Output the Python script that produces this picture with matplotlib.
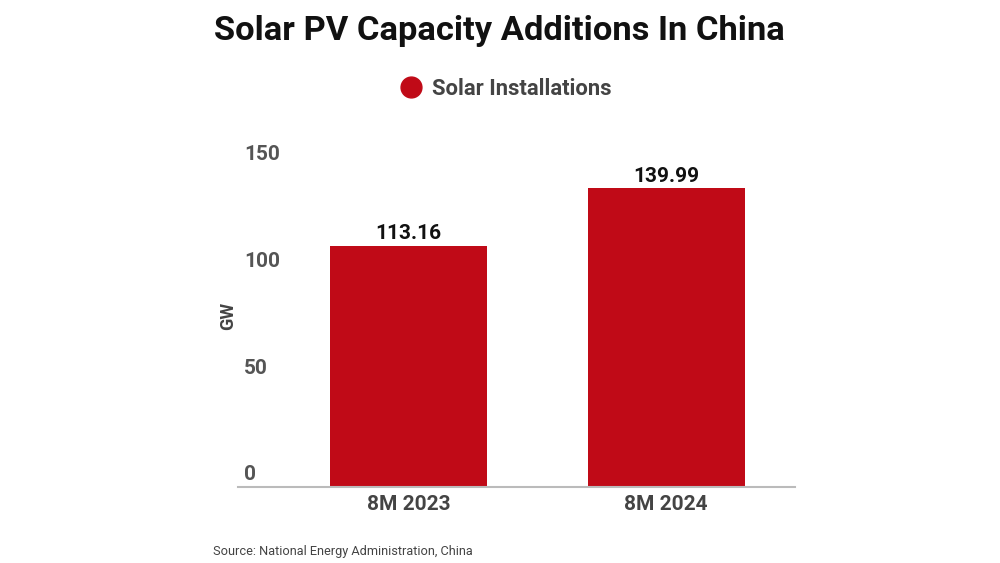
import matplotlib
matplotlib.use("Agg")
import matplotlib.pyplot as plt
from matplotlib.lines import Line2D

categories = ["8M 2023", "8M 2024"]
values = [113.16, 139.99]
value_labels = ["113.16", "139.99"]
yticks = [0, 50, 100, 150]
series_name = "Solar Installations"

plt.rcParams['font.family'] = ['Roboto', 'DejaVu Sans']

RED = "#C00A17"
GRAY = "#444444"

fig = plt.figure(figsize=(10, 5.63), dpi=100)
ax = fig.add_axes([0.238, 0.135, 0.557, 0.5684])

x = list(range(len(categories)))
bars = ax.bar(x, values, width=0.61, color=RED, zorder=2)
ax.set_xlim(-0.662, 1.50)
ax.set_ylim(0, 150)

for b, lab in zip(bars, value_labels):
    ax.annotate(lab, (b.get_x() + b.get_width() / 2, b.get_height()),
                xytext=(0, 1.8), textcoords="offset points",
                ha="center", va="bottom", fontsize=15, fontweight="bold",
                color="#111111")

for s in ["top", "right", "left"]:
    ax.spines[s].set_visible(False)
ax.spines["bottom"].set_color("#bbbbbb")
ax.spines["bottom"].set_linewidth(1.5)

ax.set_xticks(x)
ax.set_xticklabels(categories, fontsize=15, fontweight="bold", color=GRAY)
ax.tick_params(axis="x", length=0, pad=5.5)

ax.set_yticks(yticks)
ax.set_yticklabels([])
ax.tick_params(axis="y", length=0)
for t in yticks:
    ax.annotate(str(t), (0, t), xycoords=("axes fraction", "data"),
                xytext=(4.5, 2), textcoords="offset points",
                ha="left", va="bottom", fontsize=15, fontweight="bold",
                color="#555555")

fig.text(0.228, 1 - 316 / 563, "GW", rotation=90, ha="center", va="center",
         fontsize=13, fontweight="bold", color=GRAY)

fig.text(0.499, 1 - 31 / 563, "Solar PV Capacity Additions In China",
         ha="center", va="center", fontsize=24.8, fontweight="bold", color="#111111")

handle = Line2D([], [], marker="o", linestyle="none", markersize=15,
                markerfacecolor=RED, markeredgecolor=RED)
fig.legend([handle], [series_name], loc="center", bbox_to_anchor=(0.505, 1 - 89 / 563),
           frameon=False, handletextpad=0.35, handlelength=1.2,
           prop={"size": 15.8, "weight": "bold"}, labelcolor=GRAY)

fig.text(0.213, 1 - 552 / 563, "Source: National Energy Administration, China",
         ha="left", va="center", fontsize=9.2, color=GRAY)

fig.savefig("out.png", dpi=100)
